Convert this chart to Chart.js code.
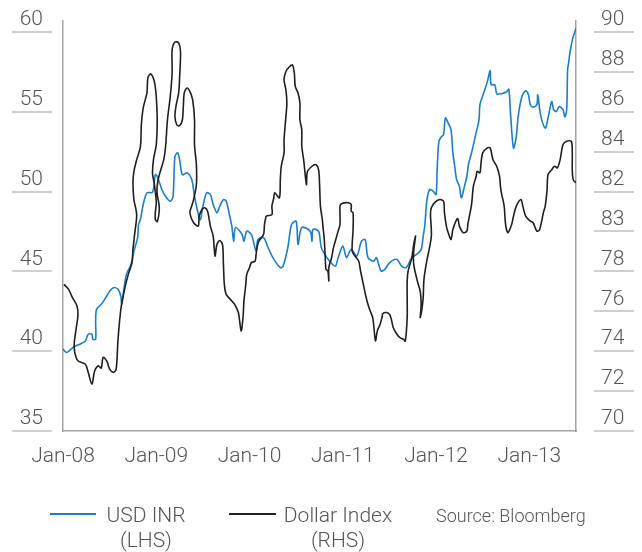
<!DOCTYPE html>
<html>
<head>
<meta charset="utf-8">
<script src="https://cdn.jsdelivr.net/npm/chart.js@4/dist/chart.umd.min.js"></script>
<style>
  html, body { margin: 0; padding: 0; background: #ffffff; }
  #wrap { position: relative; width: 642px; height: 552px; overflow: hidden; }
  #c { position: absolute; left: 0; top: 0; }
  .lg { position: absolute; font-family: Roboto, "Liberation Sans", sans-serif; font-weight: 300; color: #555; }
  .sw { position: absolute; height: 2px; }
</style>
</head>
<body>
<div id="wrap">
  <canvas id="c" width="642" height="552"></canvas>
  <div class="sw" style="left:50px;top:513px;width:46px;background:#1b7fc8;"></div>
  <div class="lg" style="left:96px;top:503px;width:100px;text-align:center;font-size:21px;line-height:25px;">USD INR<br>(LHS)</div>
  <div class="sw" style="left:229px;top:513px;width:47px;background:#222;"></div>
  <div class="lg" style="left:280px;top:503px;width:116px;text-align:center;font-size:21px;line-height:25px;">Dollar Index<br>(RHS)</div>
  <div class="lg" style="left:436px;top:504px;font-size:18px;line-height:23px;white-space:nowrap;">Source: Bloomberg</div>
</div>
<script>
// ---- tick labels ----
const xTickLabels = ["Jan-08", "Jan-09", "Jan-10", "Jan-11", "Jan-12", "Jan-13"];
const leftTickLabels = ["35", "40", "45", "50", "55", "60"];
const rightTickLabels = ["70", "72", "74", "76", "78", "83", "82", "84", "86", "88", "90"];

// ---- USD INR (LHS): time in years since Jan-08, value ----
const usdInrT = [0.00,0.04,0.11,0.18,0.24,0.27,0.31,0.32,0.35,0.35,0.36,0.41,0.47,0.50,0.54,0.59,0.62,0.63,0.65,0.68,
  0.73,0.76,0.80,0.81,0.83,0.86,0.90,0.96,0.99,1.01,1.06,1.10,1.15,1.18,1.20,1.23,1.25,1.28,1.33,1.38,
  1.41,1.47,1.50,1.54,1.58,1.61,1.65,1.68,1.72,1.75,1.78,1.81,1.83,1.85,1.92,1.94,1.97,2.02,2.07,2.09,
  2.15,2.20,2.25,2.33,2.36,2.41,2.45,2.50,2.52,2.56,2.65,2.67,2.68,2.74,2.77,2.83,2.86,2.92,2.95,3.00,
  3.04,3.09,3.15,3.20,3.24,3.27,3.33,3.36,3.41,3.45,3.50,3.58,3.63,3.68,3.74,3.79,3.84,3.86,3.88,3.90,
  3.93,3.97,4.00,4.01,4.03,4.06,4.08,4.10,4.13,4.16,4.18,4.20,4.22,4.25,4.27,4.30,4.33,4.35,4.38,4.42,
  4.46,4.47,4.51,4.55,4.58,4.59,4.63,4.65,4.70,4.76,4.78,4.80,4.83,4.86,4.88,4.92,4.96,4.99,5.01,5.04,
  5.08,5.09,5.12,5.17,5.20,5.24,5.26,5.29,5.32,5.36,5.38,5.40,5.41,5.42,5.44,5.47,5.50];
const usdInrV = [40.13,39.92,40.25,40.44,40.64,41.06,41.06,40.75,40.75,41.88,42.63,42.94,43.46,43.75,43.98,43.88,43.44,42.94,43.77,44.81,
  45.44,46.27,47.11,47.94,48.25,49.19,49.92,49.96,51.06,50.96,50.13,49.69,49.39,49.71,52.21,52.42,52.00,51.06,51.17,50.75,
  49.71,48.25,49.08,49.92,49.81,49.19,48.67,49.08,49.50,49.39,48.67,47.83,46.89,47.75,47.31,46.89,47.52,47.31,46.27,47.00,
  47.11,46.48,45.86,45.23,45.33,46.48,47.94,48.14,46.69,47.75,47.52,46.89,47.63,47.52,46.48,45.86,45.64,45.33,45.86,46.58,
  45.86,46.38,45.96,46.89,47.00,45.86,45.64,45.86,45.02,45.13,45.54,45.75,45.33,45.23,45.86,46.06,46.38,47.11,47.94,49.39,
  50.13,50.02,49.81,51.17,53.14,53.46,53.56,54.61,54.29,53.88,52.42,51.58,50.75,50.33,49.61,50.23,50.96,51.79,52.42,53.46,
  54.50,55.44,56.17,56.89,57.58,56.69,56.69,56.13,56.13,56.27,56.42,54.71,52.73,53.46,54.71,55.96,56.31,56.06,55.44,55.29,
  55.44,56.06,54.81,53.98,54.61,55.64,55.13,55.02,55.33,55.13,54.67,55.13,57.63,58.04,58.88,59.71,60.23];

// ---- Dollar Index (RHS): time in years since Jan-08, value (trace as drawn, incl. loops) ----
const dxyT = [0.01,0.06,0.10,0.15,0.16,0.14,0.12,0.13,0.16,0.24,0.27,0.31,0.34,0.38,0.41,0.43,0.47,0.50,0.54,0.57,
  0.59,0.62,0.66,0.70,0.74,0.75,0.77,0.79,0.76,0.75,0.76,0.79,0.83,0.84,0.86,0.90,0.91,0.94,0.98,1.00,
  1.01,1.00,0.97,0.96,0.98,1.00,0.99,0.99,1.01,1.03,1.03,1.01,1.01,1.03,1.08,1.10,1.12,1.15,1.17,1.17,
  1.20,1.24,1.26,1.25,1.24,1.21,1.20,1.22,1.25,1.28,1.29,1.30,1.33,1.36,1.39,1.41,1.41,1.43,1.43,1.40,
  1.38,1.36,1.40,1.45,1.46,1.49,1.52,1.55,1.58,1.61,1.63,1.65,1.68,1.71,1.72,1.73,1.75,1.81,1.84,1.88,
  1.91,1.93,1.94,1.96,1.97,2.00,2.02,2.06,2.07,2.08,2.10,2.15,2.16,2.17,2.18,2.24,2.24,2.26,2.27,2.32,
  2.33,2.34,2.37,2.37,2.39,2.40,2.39,2.37,2.39,2.43,2.46,2.48,2.49,2.52,2.54,2.54,2.56,2.56,2.58,2.61,
  2.62,2.67,2.71,2.74,2.75,2.76,2.78,2.79,2.80,2.81,2.82,2.84,2.85,2.85,2.88,2.90,2.93,2.95,2.97,2.97,
  2.99,3.06,3.09,3.09,3.11,3.11,3.10,3.13,3.17,3.19,3.22,3.25,3.28,3.32,3.33,3.35,3.37,3.40,3.42,3.43,
  3.47,3.50,3.52,3.54,3.58,3.61,3.65,3.67,3.69,3.69,3.69,3.70,3.74,3.76,3.78,3.76,3.76,3.80,3.83,3.84,
  3.83,3.86,3.87,3.90,3.93,3.95,3.94,3.95,3.99,4.04,4.08,4.09,4.11,4.13,4.16,4.18,4.23,4.25,4.29,4.33,
  4.34,4.38,4.40,4.43,4.44,4.47,4.48,4.50,4.55,4.58,4.61,4.65,4.68,4.69,4.70,4.73,4.74,4.75,4.77,4.81,
  4.83,4.86,4.91,4.93,4.96,5.01,5.04,5.08,5.11,5.15,5.17,5.19,5.20,5.24,5.27,5.30,5.33,5.36,5.40,5.45,
  5.46,5.46,5.47,5.50];
const dxyV = [77.35,77.10,76.70,76.27,75.80,75.10,74.35,73.85,73.52,73.35,72.94,72.35,73.02,73.27,73.15,73.69,73.50,73.10,72.94,73.10,
  74.60,76.10,77.10,77.85,78.44,79.10,79.94,80.85,81.60,82.45,83.00,83.60,84.25,85.35,86.20,86.95,87.70,87.90,87.50,86.75,
  85.60,84.35,83.60,82.90,82.35,81.45,80.95,80.60,80.50,80.95,81.35,81.85,82.30,82.80,83.60,84.27,85.60,86.77,87.94,89.10,
  89.50,89.45,89.00,87.70,86.95,86.25,85.75,85.35,85.30,85.60,86.25,86.95,87.19,87.02,86.60,85.60,84.35,83.35,82.35,81.60,
  81.27,80.94,80.44,80.27,80.77,81.10,81.19,81.02,80.27,79.77,78.77,79.35,79.55,79.35,78.35,77.35,76.85,76.52,76.35,75.94,
  75.02,75.69,76.52,77.35,77.85,78.19,78.44,78.52,78.85,79.19,79.52,79.85,80.35,80.60,80.77,80.85,81.27,81.69,81.94,81.69,
  82.60,83.27,83.94,84.60,85.77,86.44,87.10,87.60,88.02,88.27,88.35,87.94,87.27,86.94,86.44,85.60,85.10,84.27,83.60,82.35,
  83.00,83.27,83.35,83.10,82.44,81.27,80.60,80.10,79.69,78.85,78.10,78.02,77.52,78.19,78.69,79.19,79.69,80.02,80.35,81.27,
  81.40,81.44,81.35,81.02,80.94,80.10,79.02,78.77,78.52,78.02,77.35,76.69,76.19,75.69,75.35,74.52,75.02,75.35,75.69,75.89,
  75.94,75.85,75.60,75.19,74.85,74.69,74.60,74.50,75.69,76.70,77.52,78.02,78.69,79.35,79.77,79.00,78.35,77.50,77.00,76.35,
  75.69,76.60,77.60,78.52,79.20,79.85,80.85,81.20,81.47,81.60,81.52,80.94,80.27,79.94,79.60,80.10,80.65,80.27,79.94,80.02,
  80.35,81.35,82.27,82.77,83.02,82.94,83.35,83.94,84.19,84.19,83.60,83.27,82.77,82.27,81.94,81.27,80.60,80.20,79.94,80.35,
  80.77,81.27,81.60,81.27,80.77,80.52,80.44,80.02,80.10,80.94,81.27,82.10,82.85,83.10,83.27,83.19,83.60,84.35,84.52,84.52,
  83.94,83.10,82.60,82.44];

const usdInrData = usdInrT.map((t, i) => ({ x: t, y: usdInrV[i] }));
const dxyData = dxyT.map((t, i) => ({ x: t, y: dxyV[i] }));

const TEXT = '#555555';
const AXIS = '#a3a3a3';
const FONT = { family: 'Roboto, "Liberation Sans", sans-serif', size: 21, weight: 300 };

function noPad(s) { s.paddingTop = 0; s.paddingBottom = 0; }

const underlinePlugin = {
  id: 'underlines',
  afterDraw(chart) {
    const ctx = chart.ctx;
    ctx.save();
    ctx.strokeStyle = '#cfcfcf';
    ctx.lineWidth = 2;
    const yl = chart.scales.yL, yr = chart.scales.yR;
    yl.ticks.forEach(t => {
      const y = Math.round(yl.getPixelForValue(t.value));
      ctx.beginPath(); ctx.moveTo(yl.left + 12, y); ctx.lineTo(yl.left + 52, y); ctx.stroke();
    });
    yr.ticks.forEach(t => {
      const y = Math.round(yr.getPixelForValue(t.value));
      ctx.beginPath(); ctx.moveTo(yr.left + 18, y); ctx.lineTo(yr.left + 58, y); ctx.stroke();
    });
    ctx.restore();
  }
};

new Chart(document.getElementById('c'), {
  type: 'scatter',
  data: {
    datasets: [
      { label: 'Dollar Index (RHS)', data: dxyData, yAxisID: 'yR', showLine: true,
        borderColor: '#1f1f1f', borderWidth: 1.6, pointRadius: 0, tension: 0.3, fill: false },
      { label: 'USD INR (LHS)', data: usdInrData, yAxisID: 'yL', showLine: true,
        borderColor: '#1b7fc8', borderWidth: 1.6, pointRadius: 0, tension: 0.3, fill: false }
    ]
  },
  options: {
    responsive: false,
    devicePixelRatio: 1,
    animation: false,
    layout: { padding: { top: 21, left: 0, right: 0, bottom: 0 } },
    plugins: { legend: { display: false }, tooltip: { enabled: false } },
    scales: {
      x: {
        type: 'linear', position: 'bottom', min: 0, max: 5.5,
        afterFit(s) { s.height = 121; s.paddingLeft = 0; s.paddingRight = 0; },
        grid: { display: false, drawTicks: false },
        border: { display: true, color: AXIS, width: 1.5 },
        ticks: { stepSize: 1, includeBounds: false, color: TEXT, font: FONT, padding: 13, maxRotation: 0, autoSkip: false,
          callback: (v) => xTickLabels[Math.round(v)] }
      },
      yL: {
        type: 'linear', position: 'left', min: 35, max: 60.6875,
        afterFit(s) { s.width = 63; noPad(s); },
        grid: { display: false, drawTicks: false },
        border: { display: true, color: AXIS, width: 1.5 },
        ticks: { stepSize: 5, includeBounds: false, color: TEXT, font: FONT, padding: 20, crossAlign: 'center', labelOffset: -12,
          callback: (v) => leftTickLabels[Math.round((v - 35) / 5)] }
      },
      yR: {
        type: 'linear', position: 'right', min: 70, max: 90.55,
        afterFit(s) { s.width = 66; noPad(s); },
        grid: { display: false, drawTicks: false },
        border: { display: true, color: AXIS, width: 1.5 },
        ticks: { stepSize: 2, includeBounds: false, color: TEXT, font: FONT, padding: 25, crossAlign: 'center', labelOffset: -12,
          callback: (v) => rightTickLabels[Math.round((v - 70) / 2)] }
      }
    }
  },
  plugins: [underlinePlugin]
});
</script>
</body>
</html>
